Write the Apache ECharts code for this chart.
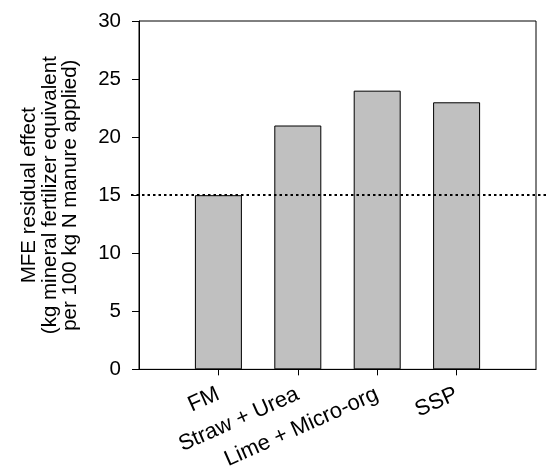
<!DOCTYPE html>
<html>
<head>
<meta charset="utf-8">
<script src="https://cdn.jsdelivr.net/npm/echarts@6/dist/echarts.min.js"></script>
<style>html,body{margin:0;padding:0;background:#fff}#c{width:550px;height:472px}</style>
</head>
<body>
<div id="c"></div>
<script>
const categories = ['FM', 'Straw + Urea', 'Lime + Micro-org', 'SSP'];
const values = [15, 21, 24, 23];
const yTicks = [0, 5, 10, 15, 20, 25, 30];
const referenceValue = 15;

const FONT = 'Liberation Sans, Arial, Helvetica, sans-serif';
const xCats = [''].concat(categories, ['']);
const barData = ['-'].concat(values, ['-']);

const chart = echarts.init(document.getElementById('c'), null, {renderer: 'canvas'});
chart.setOption({
  animation: false,
  backgroundColor: '#ffffff',
  textStyle: {fontFamily: FONT},
  grid: {left: 139, right: 14, top: 21, bottom: 102, show: true, borderColor: '#000', borderWidth: 1, backgroundColor: 'transparent'},
  xAxis: {
    type: 'category',
    data: xCats,
    boundaryGap: false,
    axisLine: {lineStyle: {color: '#000', width: 1}},
    axisTick: {show: true, length: 6, inside: false, lineStyle: {color: '#000'},
      interval: function (i) { return i >= 1 && i <= categories.length; }},
    axisLabel: {interval: 0, rotate: 24, margin: 24, fontSize: 22, color: '#000', fontFamily: FONT},
    splitLine: {show: false}
  },
  yAxis: {
    type: 'value',
    min: yTicks[0],
    max: yTicks[yTicks.length - 1],
    interval: 5,
    name: 'MFE residual effect\n(kg mineral fertilizer equivalent\nper 100 kg N manure applied)',
    nameLocation: 'middle',
    nameGap: 58,
    nameRotate: 90,
    nameTextStyle: {fontSize: 20.5, color: '#000', lineHeight: 20.5, fontFamily: FONT, align: 'center'},
    axisLine: {show: true, lineStyle: {color: '#000', width: 1}},
    axisTick: {show: true, length: 7, lineStyle: {color: '#000'}},
    axisLabel: {margin: 18, fontSize: 20.5, color: '#000', fontFamily: FONT},
    splitLine: {show: false}
  },
  series: [
    {
      type: 'bar',
      data: barData,
      barWidth: 47,
      itemStyle: {color: '#c0c0c0', borderColor: '#000', borderWidth: 1},
      z: 2
    },
    {
      type: 'line',
      data: [],
      silent: true,
      markLine: {
        silent: true,
        symbol: ['none', 'none'],
        label: {show: false},
        lineStyle: {color: '#000', width: 2, type: [2.5, 3]},
        z: 5,
        data: [[{x: 131, yAxis: referenceValue}, {x: 548, yAxis: referenceValue}]]
      }
    }
  ]
});
</script>
</body>
</html>
